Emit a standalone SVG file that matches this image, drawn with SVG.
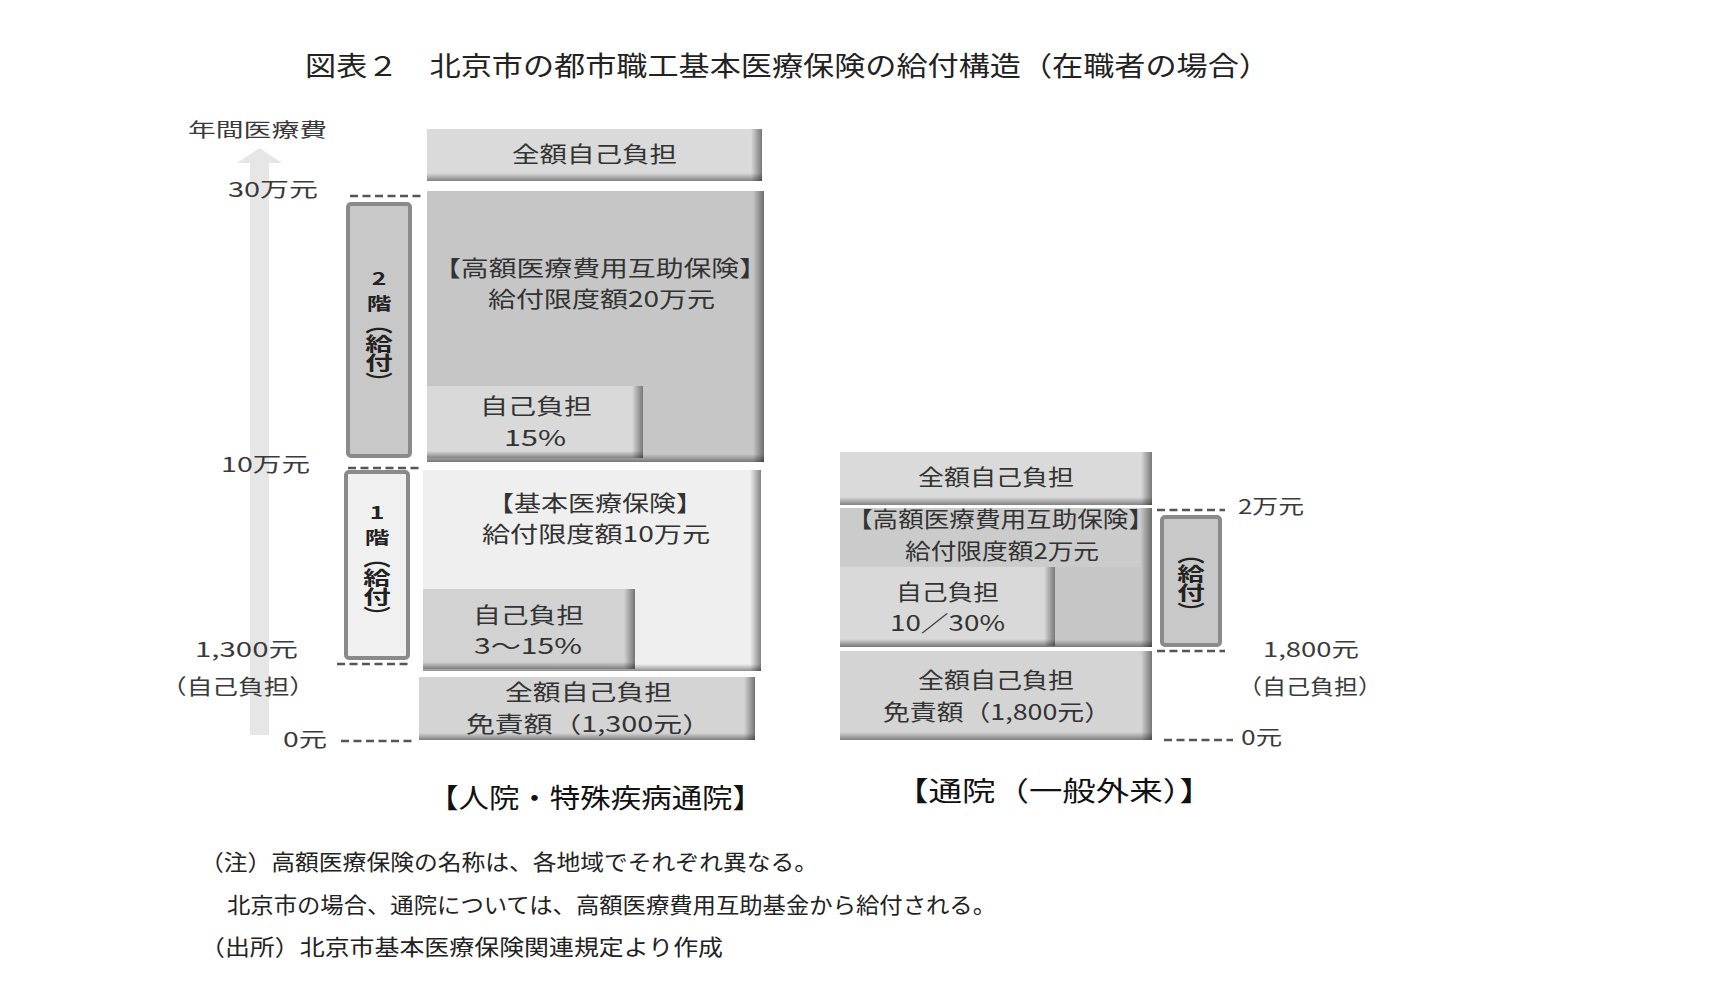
<svg xmlns="http://www.w3.org/2000/svg" width="1718" height="999" viewBox="0 0 1718 999">
<style>
text{font-family:"Noto Sans CJK JP","Noto Sans CJK SC",sans-serif;fill:#333}
.box{font-size:22px}
.ax{font-size:20px;fill:#3a3a3a}
.cap{font-size:27px;fill:#111}
.note{font-size:22px;fill:#222}
.vt{font-size:17px;font-weight:bold;fill:#222;text-anchor:middle}
.vv{font-size:19px;font-weight:bold;fill:#222;writing-mode:vertical-rl}
.dash{stroke:#555;stroke-width:2.6;stroke-dasharray:8 4.5;fill:none}
.bar{stroke:#8a8a8a;stroke-width:4}
.rs{fill:url(#gr)}
.bs{fill:url(#gb)}
</style>
<defs>
<linearGradient id="gr" x1="0" y1="0" x2="1" y2="0">
<stop offset="0" stop-color="#000" stop-opacity="0"/>
<stop offset="1" stop-color="#000" stop-opacity="0.45"/>
</linearGradient>
<linearGradient id="gb" x1="0" y1="0" x2="0" y2="1">
<stop offset="0" stop-color="#000" stop-opacity="0"/>
<stop offset="1" stop-color="#000" stop-opacity="0.4"/>
</linearGradient>
</defs>
<rect width="1718" height="999" fill="#fff"/>

<text x="305" y="76" style="font-size:27px;fill:#222" textLength="965" lengthAdjust="spacingAndGlyphs">図表２　北京市の都市職工基本医療保険の給付構造（在職者の場合）</text>

<g id="axis">
<polygon points="259.5,148 282,163 269,163 269,735 250,735 250,163 237,163" fill="#e6e6e6"/>
<text class="ax" x="188" y="137" style="font-size:19px" textLength="139" lengthAdjust="spacingAndGlyphs">年間医療費</text>
<text class="ax" x="228" y="197" textLength="90" lengthAdjust="spacingAndGlyphs">30万元</text>
<text class="ax" x="221" y="472" textLength="89" lengthAdjust="spacingAndGlyphs">10万元</text>
<text class="ax" x="195" y="657" textLength="103" lengthAdjust="spacingAndGlyphs">1,300元</text>
<text class="ax" x="161" y="694" style="font-size:21px" textLength="154" lengthAdjust="spacingAndGlyphs">（自己負担）</text>
<text class="ax" x="283" y="747" textLength="44" lengthAdjust="spacingAndGlyphs">0元</text>
</g>

<g id="connectors">
<line class="dash" x1="350" y1="196" x2="423" y2="196"/>
<line class="dash" x1="348" y1="468" x2="420" y2="468"/>
<line class="dash" x1="337" y1="664" x2="410" y2="664"/>
<line class="dash" x1="341" y1="741" x2="413" y2="741"/>
<line class="dash" x1="1157" y1="510" x2="1225" y2="510"/>
<line class="dash" x1="1157" y1="651" x2="1225" y2="651"/>
<line class="dash" x1="1164" y1="740" x2="1233" y2="740"/>
</g>

<g id="bar-2f">
<rect class="bar" x="348" y="204" width="62" height="252" rx="3" fill="#c8c8c8"/>
<g transform="translate(379,0) scale(1.45,1) translate(-379,0)">
<text class="vt" x="379" y="285">2</text>
<text class="vt" x="379" y="310">階</text>
<text class="vv" x="379" y="315">（給付）</text>
</g>
</g>

<g id="bar-1f">
<rect class="bar" x="346" y="472" width="62" height="186" rx="3" fill="#f0f0f0"/>
<g transform="translate(377,0) scale(1.45,1) translate(-377,0)">
<text class="vt" x="377" y="519">1</text>
<text class="vt" x="377" y="544">階</text>
<text class="vv" x="377" y="549">（給付）</text>
</g>
</g>

<g id="bar-r">
<rect class="bar" x="1162" y="517" width="58" height="128" rx="3" fill="#c8c8c8"/>
<g transform="translate(1191,0) scale(1.45,1) translate(-1191,0)">
<text class="vv" x="1191" y="545">（給付）</text>
</g>
</g>

<g id="L-top">
<rect x="427" y="129" width="335" height="52" fill="#dadada"/>
<rect class="rs" x="751" y="129" width="11" height="52"/>
<rect class="bs" x="427" y="173" width="335" height="8"/>
<text class="box" x="512" y="162" textLength="165" lengthAdjust="spacingAndGlyphs">全額自己負担</text>
</g>

<g id="L-kogaku">
<rect x="427" y="191" width="337" height="271" fill="#c6c6c6"/>
<rect class="rs" x="753" y="191" width="11" height="271"/>
<rect class="bs" x="427" y="454" width="337" height="8"/>
<text class="box" x="433" y="276" textLength="334" lengthAdjust="spacingAndGlyphs">【高額医療費用互助保険】</text>
<text class="box" x="488" y="307" textLength="227" lengthAdjust="spacingAndGlyphs">給付限度額20万元</text>
</g>

<g id="L-kogaku-self">
<rect x="427" y="386" width="216" height="72" fill="#d9d9d9"/>
<rect class="rs" x="632" y="386" width="11" height="72"/>
<rect class="bs" x="427" y="451" width="216" height="7"/>
<text class="box" x="480" y="414" textLength="112" lengthAdjust="spacingAndGlyphs">自己負担</text>
<text class="box" x="504" y="446" textLength="62" lengthAdjust="spacingAndGlyphs">15%</text>
</g>

<g id="L-kihon">
<rect x="423" y="470" width="338" height="201" fill="#efefef"/>
<rect class="rs" x="750" y="470" width="11" height="201"/>
<rect class="bs" x="423" y="664" width="338" height="7"/>
<text class="box" x="487" y="511" textLength="216" lengthAdjust="spacingAndGlyphs">【基本医療保険】</text>
<text class="box" x="482" y="542" textLength="228" lengthAdjust="spacingAndGlyphs">給付限度額10万元</text>
</g>

<g id="L-kihon-self">
<rect x="423" y="589" width="212" height="80" fill="#d2d2d2"/>
<rect class="rs" x="624" y="589" width="11" height="80"/>
<rect class="bs" x="423" y="662" width="212" height="7"/>
<text class="box" x="473" y="623" textLength="111" lengthAdjust="spacingAndGlyphs">自己負担</text>
<text class="box" x="474" y="654" textLength="108" lengthAdjust="spacingAndGlyphs">3～15%</text>
</g>

<g id="L-deductible">
<rect x="419" y="677" width="336" height="63" fill="#d4d4d4"/>
<rect class="rs" x="744" y="677" width="11" height="63"/>
<rect class="bs" x="419" y="733" width="336" height="7"/>
<text class="box" x="505" y="700" textLength="167" lengthAdjust="spacingAndGlyphs">全額自己負担</text>
<text class="box" x="466" y="732" textLength="245" lengthAdjust="spacingAndGlyphs">免責額（1,300元）</text>
</g>

<text class="cap" x="428" y="808" textLength="335" lengthAdjust="spacingAndGlyphs">【人院・特殊疾病通院】</text>

<g id="R-top">
<rect x="840" y="452" width="312" height="53" fill="#dadada"/>
<rect class="rs" x="1141" y="452" width="11" height="53"/>
<rect class="bs" x="840" y="497" width="312" height="8"/>
<text class="box" x="918" y="485" textLength="156" lengthAdjust="spacingAndGlyphs">全額自己負担</text>
</g>

<g id="R-kogaku">
<rect x="840" y="508" width="312" height="139" fill="#c6c6c6"/>
<rect x="840" y="508" width="301" height="59" fill="#cbcbcb"/>
<rect class="rs" x="1141" y="508" width="11" height="139"/>
<rect class="bs" x="840" y="640" width="312" height="7"/>
<text class="box" x="847" y="527" textLength="307" lengthAdjust="spacingAndGlyphs">【高額医療費用互助保険】</text>
<text class="box" x="905" y="559" textLength="194" lengthAdjust="spacingAndGlyphs">給付限度額2万元</text>
</g>

<g id="R-kogaku-self">
<rect x="840" y="567" width="215" height="79" fill="#d9d9d9"/>
<rect class="rs" x="1044" y="567" width="11" height="79"/>
<rect class="bs" x="840" y="639" width="215" height="7"/>
<text class="box" x="896" y="600" textLength="103" lengthAdjust="spacingAndGlyphs">自己負担</text>
<text class="box" x="890" y="631" textLength="115" lengthAdjust="spacingAndGlyphs">10／30%</text>
</g>

<g id="R-deductible">
<rect x="840" y="651" width="312" height="89" fill="#d4d4d4"/>
<rect class="rs" x="1141" y="651" width="11" height="89"/>
<rect class="bs" x="840" y="732" width="312" height="8"/>
<text class="box" x="918" y="688" textLength="156" lengthAdjust="spacingAndGlyphs">全額自己負担</text>
<text class="box" x="883" y="720" textLength="228" lengthAdjust="spacingAndGlyphs">免責額（1,800元）</text>
</g>

<g id="R-axis">
<text class="ax" x="1238" y="514" textLength="66" lengthAdjust="spacingAndGlyphs">2万元</text>
<text class="ax" x="1263" y="657" textLength="96" lengthAdjust="spacingAndGlyphs">1,800元</text>
<text class="ax" x="1238" y="694" style="font-size:21px" textLength="144" lengthAdjust="spacingAndGlyphs">（自己負担）</text>
<text class="ax" x="1241" y="745" textLength="41" lengthAdjust="spacingAndGlyphs">0元</text>
</g>

<text class="cap" x="895" y="801" textLength="318" lengthAdjust="spacingAndGlyphs">【通院（一般外来）】</text>

<g id="notes">
<text class="note" x="200" y="870" textLength="618" lengthAdjust="spacingAndGlyphs">（注）高額医療保険の名称は、各地域でそれぞれ異なる。</text>
<text class="note" x="227" y="913" textLength="769" lengthAdjust="spacingAndGlyphs">北京市の場合、通院については、高額医療費用互助基金から給付される。</text>
<text class="note" x="200" y="955" textLength="523" lengthAdjust="spacingAndGlyphs">（出所）北京市基本医療保険関連規定より作成</text>
</g>
</svg>
